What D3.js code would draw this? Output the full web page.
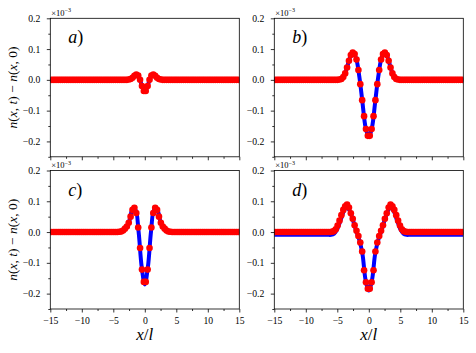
<!DOCTYPE html>
<html>
<head>
<meta charset="utf-8">
<script src="https://cdn.jsdelivr.net/npm/d3@7"></script>
<style>
body { margin: 0; background: #fff; }
text { font-family: "Liberation Serif", "DejaVu Serif", serif; fill: #000; }
</style>
</head>
<body>
<div id="chart"></div>
<script>
// dot positions (x/l)
var xs = [
  -14.85,-14.55,-14.25,-13.95,-13.65,-13.35,-13.05,-12.75,-12.45,-12.15,
  -11.85,-11.55,-11.25,-10.95,-10.65,-10.35,-10.05,-9.75,-9.45,-9.15,
  -8.85,-8.55,-8.25,-7.95,-7.65,-7.35,-7.05,-6.75,-6.45,-6.15,
  -5.85,-5.55,-5.25,-4.95,-4.65,-4.35,-4.05,-3.75,-3.45,-3.15,
  -2.85,-2.55,-2.25,-1.95,-1.65,-1.35,-1.05,-0.75,-0.45,-0.15,
  0.15,0.45,0.75,1.05,1.35,1.65,1.95,2.25,2.55,2.85,
  3.15,3.45,3.75,4.05,4.35,4.65,4.95,5.25,5.55,5.85,
  6.15,6.45,6.75,7.05,7.35,7.65,7.95,8.25,8.55,8.85,
  9.15,9.45,9.75,10.05,10.35,10.65,10.95,11.25,11.55,11.85,
  12.15,12.45,12.75,13.05,13.35,13.65,13.95,14.25,14.55,14.85
];

// red dots, in units of 1e-3
var dotsA = [
  0,0,0,0,0,0,0,0,0,0,
  0,0,0,0,0,0,0,0,0,0,
  0,0,0,0,0,0,0,0,0,0,
  0,0,0,0,0,0,0,0,0,0,
  0,0.001,0.003,0.007,0.013,0.017,0.014,0.000,-0.020,-0.036,
  -0.036,-0.020,0.000,0.014,0.017,0.013,0.007,0.003,0.001,0,
  0,0,0,0,0,0,0,0,0,0,
  0,0,0,0,0,0,0,0,0,0,
  0,0,0,0,0,0,0,0,0,0,
  0,0,0,0,0,0,0,0,0,0
];
var dotsB = [
  0,0,0,0,0,0,0,0,0,0,
  0,0,0,0,0,0,0,0,0,0,
  0,0,0,0,0,0,0,0,0,0,
  0,0,0,0,0.001,0.003,0.009,0.021,0.040,0.062,
  0.081,0.089,0.084,0.066,0.032,-0.014,-0.066,-0.118,-0.160,-0.182,
  -0.182,-0.160,-0.118,-0.066,-0.014,0.032,0.066,0.084,0.089,0.081,
  0.062,0.040,0.021,0.009,0.003,0.001,0,0,0,0,
  0,0,0,0,0,0,0,0,0,0,
  0,0,0,0,0,0,0,0,0,0,
  0,0,0,0,0,0,0,0,0,0
];
var dotsC = [
  0,0,0,0,0,0,0,0,0,0,
  0,0,0,0,0,0,0,0,0,0,
  0,0,0,0,0,0,0,0,0,0,
  0,0,0,0,0,0,0.001,0.002,0.005,0.011,
  0.018,0.030,0.050,0.072,0.079,0.062,0.015,-0.052,-0.122,-0.162,
  -0.162,-0.122,-0.052,0.015,0.062,0.079,0.072,0.050,0.030,0.018,
  0.011,0.005,0.002,0.001,0,0,0,0,0,0,
  0,0,0,0,0,0,0,0,0,0,
  0,0,0,0,0,0,0,0,0,0,
  0,0,0,0,0,0,0,0,0,0
];
var dotsD = [
  0,0,0,0,0,0,0,0,0,0,
  0,0,0,0,0,0,0,0,0,0,
  0,0,0,0,0,0,0,0,0,0,
  0.001,0.003,0.009,0.021,0.037,0.055,0.072,0.084,0.089,0.080,
  0.061,0.043,0.022,0.004,-0.013,-0.034,-0.063,-0.124,-0.163,-0.184,
  -0.184,-0.163,-0.124,-0.063,-0.034,-0.013,0.004,0.022,0.043,0.061,
  0.080,0.089,0.084,0.072,0.055,0.037,0.021,0.009,0.003,0.001,
  0,0,0,0,0,0,0,0,0,0,
  0,0,0,0,0,0,0,0,0,0,
  0,0,0,0,0,0,0,0,0,0
];

// blue curves
var lineX = [-15,-8,-7.5,-7,-6.5,-6,-5.5,-5,-4.5,-4,-3.5,-3,-2.5,-2,-1.5,-1,-0.5,0,
  0.5,1,1.5,2,2.5,3,3.5,4,4.5,5,5.5,6,6.5,7,7.5,8,15];
var lineA = [0, 0,0,0,0,0,0,0,0,0,0,0, 0.0015,0.007,0.015,0.012,-0.017,-0.038,
  -0.017,0.012,0.015,0.007,0.0015, 0,0,0,0,0,0,0,0,0,0,0, 0];
var lineB = [0, 0,0,0,0,0,0,0, 0.002,0.011,0.037,0.072,0.089,0.069,0.010,-0.074,-0.155,-0.185,
  -0.155,-0.074,0.010,0.069,0.089,0.072,0.037,0.011,0.002, 0,0,0,0,0,0,0, 0];
var lineC = [0, 0,0,0,0,0,0,0, 0,0.001,0.004,0.014,0.033,0.070,0.073,0.004,-0.112,-0.170,
  -0.112,0.004,0.073,0.070,0.033,0.014,0.004,0.001,0, 0,0,0,0,0,0,0, 0];
var lineD = [-0.009, -0.009,-0.009,-0.009,-0.009,-0.009,-0.005,0.010,0.037,0.066,0.082,0.068,0.038,0.004,-0.026,-0.072,-0.157,-0.190,
  -0.157,-0.072,-0.026,0.004,0.038,0.068,0.082,0.066,0.037,0.010,-0.005,-0.009,-0.009,-0.009,-0.009,-0.009, -0.009];

var yMajor = [-0.2, -0.1, 0.0, 0.1, 0.2];
var yMinor = [-0.25, -0.15, -0.05, 0.05, 0.15];
var xMajor = [-15, -10, -5, 0, 5, 10, 15];
var xMinor = [-12.5, -7.5, -2.5, 2.5, 7.5, 12.5];
var panelNames = ["a", "b", "c", "d"];

var svgWidth = 476;
var svgHeight = 353;
var pw = 189, ph = 138.5;

var svg = d3.select("#chart")
  .append("svg")
  .attr("width", svgWidth)
  .attr("height", svgHeight);

svg.append("rect").attr("width", svgWidth).attr("height", svgHeight).attr("fill", "#fff");

var panels = [
  {name: panelNames[0], left: 50.3, top: 18.3, dots: dotsA, line: lineA, row: 0, col: 0},
  {name: panelNames[1], left: 274.3, top: 18.3, dots: dotsB, line: lineB, row: 0, col: 1},
  {name: panelNames[2], left: 50.3, top: 170.5, dots: dotsC, line: lineC, row: 1, col: 0},
  {name: panelNames[3], left: 274.3, top: 170.5, dots: dotsD, line: lineD, row: 1, col: 1}
];

panels.forEach(function(p, i) {
  var x = d3.scaleLinear().domain([-15, 15]).range([p.left, p.left + pw]);
  var y = d3.scaleLinear().domain([-0.25, 0.2]).range([p.top + ph, p.top]);

  svg.append("clipPath").attr("id", "clip" + i)
    .append("rect")
    .attr("x", p.left).attr("y", p.top)
    .attr("width", pw).attr("height", ph);

  var g = svg.append("g").attr("clip-path", "url(#clip" + i + ")");

  var line = d3.line()
    .x(function(d, k) { return x(lineX[k]); })
    .y(function(d) { return y(d); })
    .curve(d3.curveCatmullRom);

  g.append("path")
    .datum(p.line)
    .attr("d", line)
    .attr("fill", "none")
    .attr("stroke", "#0000ff")
    .attr("stroke-width", 4)
    .attr("stroke-linejoin", "round");

  g.selectAll("circle")
    .data(p.dots)
    .enter()
    .append("circle")
    .attr("cx", function(d, k) { return x(xs[k]); })
    .attr("cy", function(d) { return y(d); })
    .attr("r", 3.3)
    .attr("fill", "#ff0000");

  // axes
  var yAxis = d3.axisLeft(y).tickValues(yMajor).tickSize(3.5).tickPadding(6.5)
    .tickFormat(d3.format(".1f"));
  var yAxisMinor = d3.axisLeft(y).tickValues(yMinor).tickSize(2).tickFormat("");
  var xAxis = d3.axisBottom(x).tickValues(xMajor).tickSize(3.5).tickPadding(4.5)
    .tickFormat(p.row == 1 ? d3.format("d") : "");
  var xAxisMinor = d3.axisBottom(x).tickValues(xMinor).tickSize(2).tickFormat("");

  var ax = svg.append("g").attr("transform", "translate(" + p.left + ",0)");
  ax.call(yAxis);
  ax.append("g").call(yAxisMinor);
  var bx = svg.append("g").attr("transform", "translate(0," + (p.top + ph) + ")");
  bx.call(xAxis);
  bx.append("g").call(xAxisMinor);

  svg.selectAll(".domain").remove();
  svg.selectAll(".tick line").attr("stroke", "#000").attr("stroke-width", 0.8);
  svg.selectAll(".tick text").attr("font-size", 9.7).attr("font-family", "Liberation Serif");

  svg.append("rect")
    .attr("x", p.left).attr("y", p.top)
    .attr("width", pw).attr("height", ph)
    .attr("fill", "none")
    .attr("stroke", "#000")
    .attr("stroke-width", 0.8);

  // offset text
  var off = svg.append("text")
    .attr("x", p.left + 1)
    .attr("y", p.top - 2.5)
    .attr("font-size", 8.5);
  off.append("tspan").text("\u00d710");
  off.append("tspan").attr("font-size", 6).attr("dy", -3.5).text("\u22123");

  // panel label
  var lab = svg.append("text")
    .attr("x", p.left + 18)
    .attr("y", p.top + 25)
    .attr("font-size", 18);
  lab.append("tspan").attr("font-style", "italic").text(p.name);
  lab.append("tspan").text(")");

  if (p.col == 0) {
    var yl = svg.append("text")
      .attr("transform", "translate(17," + (p.top + ph / 2) + ") rotate(-90)")
      .attr("text-anchor", "middle")
      .attr("font-size", 13.5);
    yl.append("tspan").attr("font-style", "italic").text("n");
    yl.append("tspan").text("(");
    yl.append("tspan").attr("font-style", "italic").text("x");
    yl.append("tspan").text(", ");
    yl.append("tspan").attr("font-style", "italic").text("t");
    yl.append("tspan").text(") \u2212 ");
    yl.append("tspan").attr("font-style", "italic").text("n");
    yl.append("tspan").text("(");
    yl.append("tspan").attr("font-style", "italic").text("x");
    yl.append("tspan").text(", 0)");
  }

  if (p.row == 1) {
    var xl = svg.append("text")
      .attr("x", p.left + pw / 2)
      .attr("y", 340)
      .attr("text-anchor", "middle")
      .attr("font-size", 17);
    xl.append("tspan").attr("font-style", "italic").text("x");
    xl.append("tspan").text("/");
    xl.append("tspan").attr("font-style", "italic").text("l");
  }
});
</script>
</body>
</html>
